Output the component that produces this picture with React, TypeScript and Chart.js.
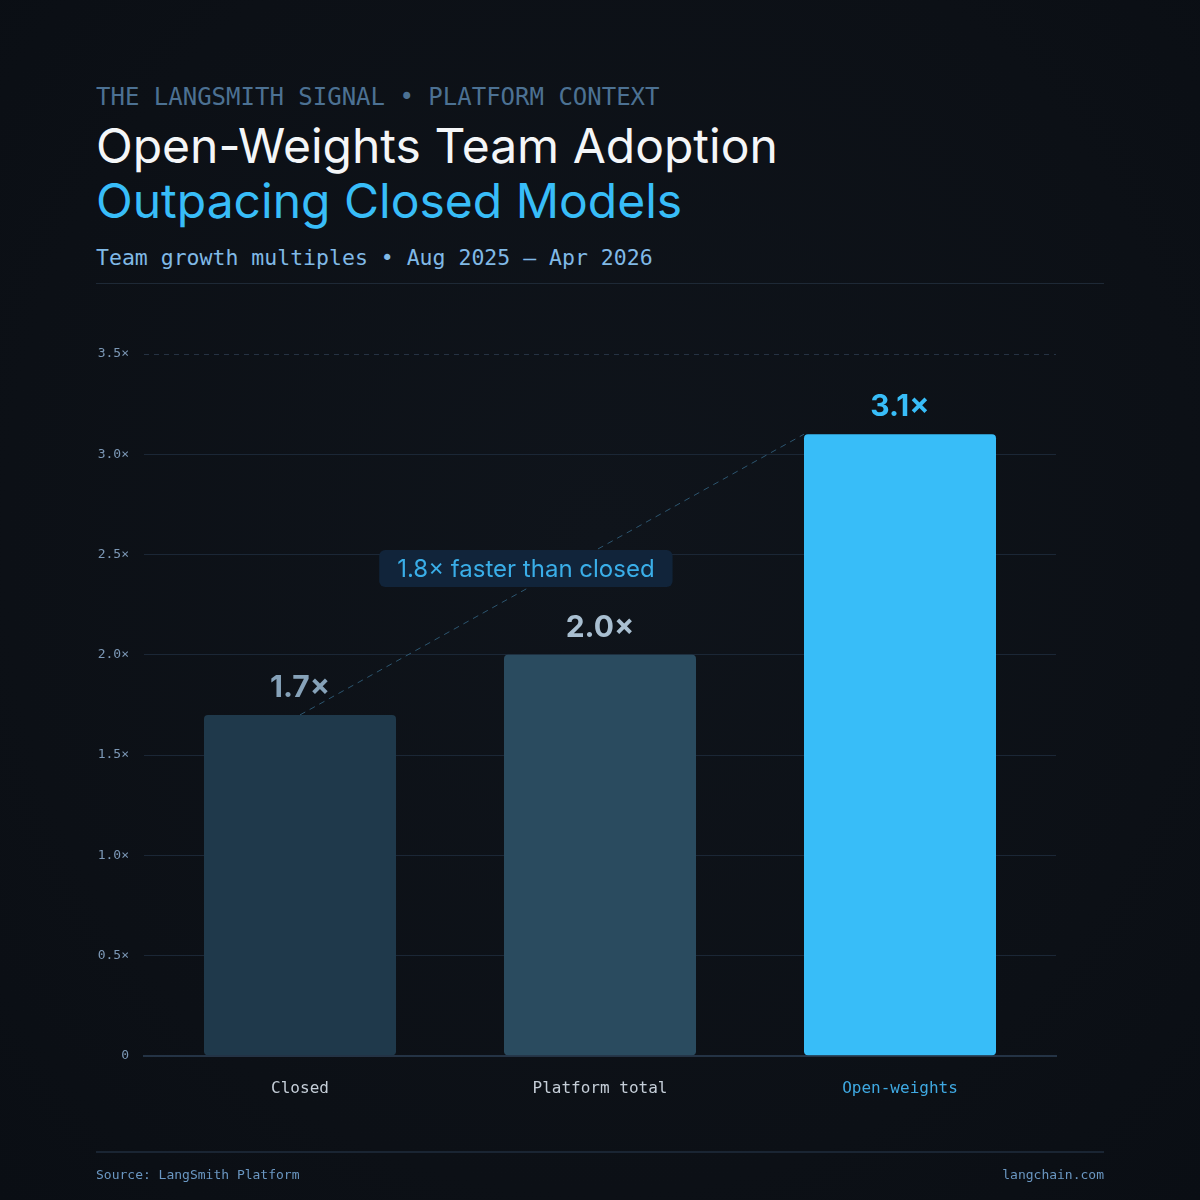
import React, { useEffect, useRef } from "react";
import { Chart, registerables } from "chart.js";

Chart.register(...registerables);

const categories = ["Closed", "Platform total", "Open-weights"];
const growthMultiples = [1.7, 2.0, 3.1];
const barColors = ["#1f394b", "#2a4b5f", "#38bdf8"];
const valueLabelColors = ["#86a2b9", "#a9bfd1", "#38bdf8"];
const categoryLabelColors = ["#c5ced8", "#c5ced8", "#3fa9e2"];
const yTicks = [0, 0.5, 1.0, 1.5, 2.0, 2.5, 3.0, 3.5];
const annotationText = "1.8× faster than closed";
const annotationAnchor = [0.753, 2.43]; // [category position, y value]
const categoryEdgeOffset = 0.52; // extra room at each end of the category axis

const SANS = "Inter, 'Noto Sans', sans-serif";
const MONO = "'DejaVu Sans Mono', 'Liberation Mono', monospace";

const overlayPlugin = {
  id: "overlay",
  beforeDatasetsDraw(chart: any) {
    const { ctx, chartArea, scales } = chart;
    const y = scales.y;
    const yTop = y.getPixelForValue(yTicks[yTicks.length - 1]);
    ctx.save();
    ctx.strokeStyle = "#253243";
    ctx.lineWidth = 1;
    ctx.setLineDash([5, 5]);
    ctx.beginPath();
    ctx.moveTo(chartArea.left, Math.round(yTop) + 0.5);
    ctx.lineTo(chartArea.right, Math.round(yTop) + 0.5);
    ctx.stroke();
    ctx.restore();
  },
  afterDatasetsDraw(chart: any) {
    const { ctx, scales } = chart;
    const meta = chart.getDatasetMeta(0);
    const els = meta.data;
    const a = els[0];
    const b = els[2];
    ctx.save();
    ctx.strokeStyle = "#2d5670";
    ctx.lineWidth = 1;
    ctx.setLineDash([6, 5]);
    ctx.beginPath();
    ctx.moveTo(a.x, a.y);
    ctx.lineTo(b.x - b.width / 2, b.y);
    ctx.stroke();
    ctx.restore();

    const cx = scales.x.getPixelForValue(annotationAnchor[0]);
    const cy = scales.y.getPixelForValue(annotationAnchor[1]);
    ctx.save();
    ctx.font = `400 24px ${SANS}`;
    const tw = ctx.measureText(annotationText).width;
    const bw = tw + 36;
    const bh = 37;
    ctx.fillStyle = "#11243a";
    ctx.beginPath();
    (ctx as any).roundRect(cx - bw / 2, cy - bh / 2, bw, bh, 6);
    ctx.fill();
    ctx.fillStyle = "#3aaee8";
    ctx.textAlign = "center";
    ctx.textBaseline = "alphabetic";
    ctx.fillText(annotationText, cx, cy + 8.5);
    ctx.restore();

    ctx.save();
    ctx.font = `700 30px ${SANS}`;
    ctx.textAlign = "center";
    ctx.textBaseline = "alphabetic";
    els.forEach((el: any, i: number) => {
      ctx.fillStyle = valueLabelColors[i];
      ctx.fillText(growthMultiples[i].toFixed(1) + "×", el.x, el.y - 18);
    });
    ctx.restore();
  },
};

export default function App() {
  const ref = useRef<HTMLCanvasElement>(null);

  useEffect(() => {
    document.body.style.margin = "0";
    document.body.style.background = "#0d1117";
    const chart = new Chart(ref.current!, {
      type: "bar",
      data: {
        labels: categories,
        datasets: [
          {
            data: growthMultiples,
            backgroundColor: barColors,
            borderRadius: 4,
            borderSkipped: false,
            barPercentage: 0.64,
            categoryPercentage: 1,
          },
        ],
      },
      options: {
        animation: false,
        responsive: false,
        devicePixelRatio: 1,
        layout: { padding: { top: 354, right: 144, bottom: 79, left: 0 } },
        plugins: { legend: { display: false }, tooltip: { enabled: false } },
        scales: {
          x: {
            grid: { display: false, drawTicks: false },
            border: { display: true, color: "#243345", width: 2 },
            afterUpdate: (s: any) => {
              s._startValue = -categoryEdgeOffset;
              s._valueRange = categories.length - 1 + 2 * categoryEdgeOffset;
            },
            ticks: {
              padding: 23,
              font: { family: MONO, size: 16 },
              color: (c: any) => categoryLabelColors[c.index],
            },
          },
          y: {
            min: 0,
            max: 3.5,
            afterFit: (s: any) => {
              s.width = 144;
            },
            afterBuildTicks: (s: any) => {
              s.ticks = yTicks.map((v) => ({ value: v }));
            },
            border: { display: false },
            grid: {
              drawTicks: false,
              lineWidth: 1,
              color: (c: any) =>
                c.tick && (c.tick.value === 0 || c.tick.value === 3.5)
                  ? "rgba(0,0,0,0)"
                  : "#1b2736",
            },
            ticks: {
              padding: 15,
              font: { family: MONO, size: 13 },
              color: "#7c98b6",
              callback: (v: any) => (Number(v) === 0 ? "0" : Number(v).toFixed(1) + "×"),
            },
          },
        },
      },
      plugins: [overlayPlugin],
    });
    return () => chart.destroy();
  }, []);

  const abs = (top: number, extra: React.CSSProperties): React.CSSProperties => ({
    position: "absolute",
    left: 96,
    top,
    margin: 0,
    whiteSpace: "nowrap",
    ...extra,
  });

  return (
    <div
      style={{
        position: "absolute",
        left: 0,
        top: 0,
        width: 1200,
        height: 1200,
        overflow: "hidden",
        background: "radial-gradient(ellipse at 50% 45%, #0f141b 0%, #0c1016 70%, #0a0e14 100%)",
      }}
    >
      <div style={abs(85, { fontFamily: MONO, fontSize: 24, lineHeight: "24px", color: "#4c7193" })}>
        THE LANGSMITH SIGNAL • PLATFORM CONTEXT
      </div>
      <div style={abs(122, { fontFamily: SANS, fontSize: 48, lineHeight: "48px", color: "#f4f6f8" })}>
        Open-Weights Team Adoption
      </div>
      <div style={abs(177, { fontFamily: SANS, fontSize: 48, lineHeight: "48px", color: "#38bdf8" })}>
        Outpacing Closed Models
      </div>
      <div style={abs(247, { fontFamily: MONO, fontSize: 21.5, lineHeight: "21.5px", color: "#80b9e6" })}>
        Team growth multiples • Aug 2025 – Apr 2026
      </div>
      <div style={{ position: "absolute", left: 96, top: 283, width: 1008, height: 1, background: "#1e2936" }} />
      <canvas
        ref={ref}
        width={1200}
        height={1200}
        style={{ position: "absolute", left: 0, top: 0, width: 1200, height: 1200 }}
      />
      <div style={{ position: "absolute", left: 96, top: 1151, width: 1008, height: 2, background: "#1a2533" }} />
      <div style={abs(1168, { fontFamily: MONO, fontSize: 13, lineHeight: "13px", color: "#6a97c2" })}>
        Source: LangSmith Platform
      </div>
      <div
        style={{
          position: "absolute",
          right: 96,
          top: 1168,
          fontFamily: MONO,
          fontSize: 13,
          lineHeight: "13px",
          color: "#6a97c2",
          whiteSpace: "nowrap",
        }}
      >
        langchain.com
      </div>
    </div>
  );
}
